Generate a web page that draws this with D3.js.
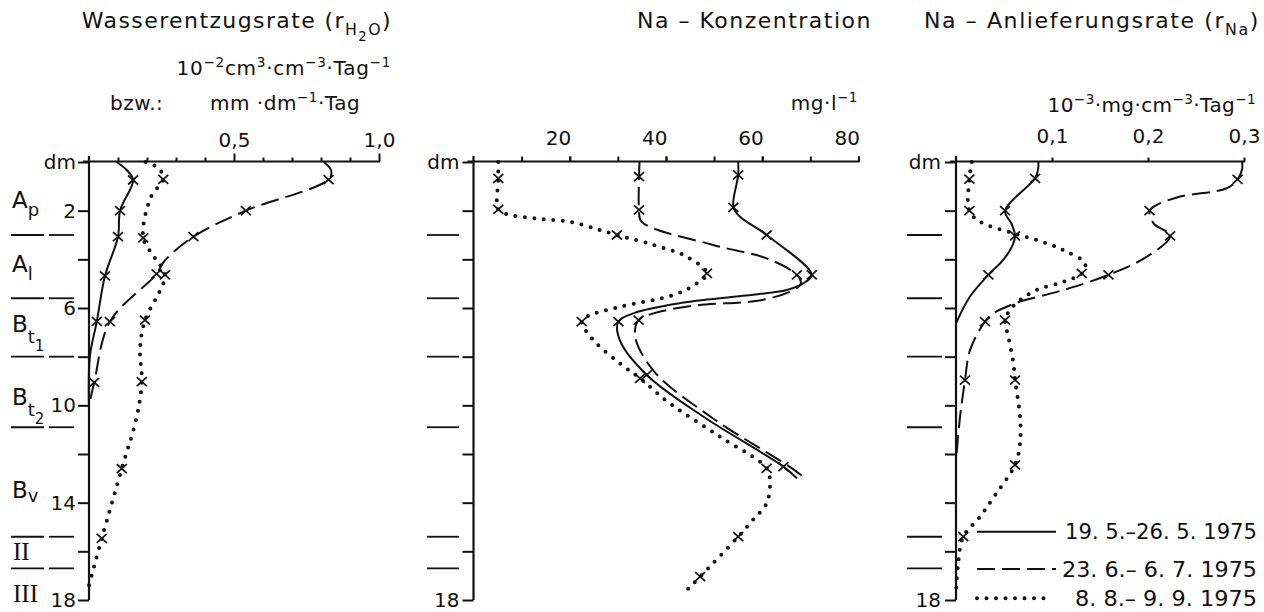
<!DOCTYPE html>
<html><head><meta charset="utf-8">
<script src="https://cdn.jsdelivr.net/npm/d3@7"></script>
<style>
body{margin:0;background:#fff}
svg{display:block;background:#fff}
text{font-family:"DejaVu Sans","Liberation Sans",sans-serif;fill:#111}
</style>
</head><body>
<svg id="chart" width="1264" height="612"></svg>
<script>
// ---------------- data ----------------
// each point: [depth (dm), value, measured (1 = cross marker)]
const seriesLabels = ["19. 5.–26. 5. 1975", "23. 6.– 6. 7. 1975", "8. 8.– 9. 9. 1975"];

// Wasserentzugsrate r_H2O (10^-2 cm3·cm-3·Tag-1)
const wasserMai = [[0,0.095,0],[0.33,0.13,0],[0.74,0.152,1],[2.0,0.107,1],[3.07,0.100,1],[4.68,0.055,1],[6.55,0.027,1],[8.0,0.003,0],[10.2,0,0]];
const wasserJuni = [[0,0.81,0],[0.35,0.835,0],[0.72,0.826,1],[2.0,0.541,1],[3.07,0.36,1],[4.1,0.258,0],[4.6,0.233,1],[6.56,0.072,1],[9.06,0.018,1],[10.0,0,0]];
const wasserAug = [[0,0.195,0],[0.25,0.24,0],[0.71,0.256,1],[1.45,0.213,0],[3.12,0.187,1],[3.9,0.225,0],[4.64,0.262,1],[5.33,0.243,0],[6.5,0.193,1],[7.7,0.176,0],[9.03,0.182,1],[10.5,0.164,0],[12.6,0.113,1],[15.47,0.044,1],[17.4,0,0]];

// Na-Konzentration (mg·l-1)
const konzMai = [[0,55,0],[0.53,55,1],[1.86,54,1],[2.25,55.4,0],[3.0,60.9,1],[4.64,70.3,1],[4.99,68.5,0],[5.26,65.1,0],[5.5,56,0],[5.8,43,0],[6.2,33.5,0],[6.56,30.1,1],[7.32,30.4,0],[8.75,36.0,1],[10.47,47.8,0],[12.52,64.4,1],[13.0,67.2,0]];
const konzJuni = [[0,34.5,0],[0.6,34.4,1],[1.97,34.4,1],[2.45,34.9,0],[3.41,49.8,0],[3.96,60.9,0],[4.64,67.2,1],[5.0,68.0,0],[5.26,66.5,0],[5.67,60,0],[5.9,46,0],[6.22,37.4,0],[6.5,34.3,1],[7.18,33.6,0],[8.6,37.5,0],[10.5,49.5,0],[12.5,65.5,0],[12.93,68.5,0]];
const konzAug = [[0,5.15,0],[0.67,5.15,1],[1.95,5.15,1],[2.14,6.9,0],[2.32,13.1,0],[2.46,20.1,0],[2.8,26.3,0],[3.0,29.8,1],[3.41,37.4,0],[3.89,44.3,0],[4.58,48.5,1],[4.99,46.4,0],[5.47,41.5,0],[5.95,30.4,0],[6.36,23.5,0],[6.56,22.5,1],[7.32,24.9,0],[8.27,30.4,0],[8.89,34.6,1],[9.92,40.8,0],[11.29,51.2,0],[12.59,60.9,1],[13.2,61.6,0],[14.03,60.9,0],[14.7,58.1,0],[15.4,55.0,1],[17.04,47.1,1],[17.6,44.3,0]];

// Na-Anlieferungsrate r_Na (10^-3 mg·cm-3·Tag-1)
const rateMai = [[0,0.0858,0],[0.3,0.0855,0],[0.67,0.0824,1],[2.0,0.0511,1],[2.55,0.058,0],[3.04,0.0615,1],[3.5,0.058,0],[4.03,0.049,0],[4.64,0.0337,1],[5.53,0.0146,0],[6.63,0,0]];
const rateJuni = [[0,0.298,0],[0.3,0.298,0],[0.71,0.2933,1],[1.08,0.282,0],[1.42,0.2336,0],[1.77,0.209,0],[2.0,0.2016,1],[2.52,0.2058,0],[3.04,0.223,1],[3.89,0.1988,0],[4.64,0.1588,1],[5.26,0.112,0],[5.74,0.0667,0],[5.95,0.0528,0],[6.22,0.039,0],[6.56,0.0302,1],[7.73,0.0146,0],[8.96,0.0094,1],[10.47,0.0042,0],[12.3,0,0]];
const rateAug = [[0,0.0164,0],[0.7,0.0139,1],[2.0,0.0139,1],[2.45,0.025,0],[2.93,0.0598,0],[3.34,0.0946,0],[3.69,0.1154,0],[4.16,0.1345,0],[4.58,0.131,1],[4.92,0.1119,0],[5.26,0.0841,0],[5.67,0.0667,0],[6.08,0.0563,0],[6.5,0.0511,1],[7.18,0.0545,0],[8.27,0.0598,0],[8.96,0.0615,1],[10.47,0.0667,0],[11.56,0.0667,0],[12.45,0.0615,1],[13.6,0.0424,0],[14.58,0.025,0],[15.4,0.0076,1],[16.6,0.002,0],[17.8,0,0]];

// axes / ticks
const depthTicks = [0,2,4,6,8,10,12,14,16,18];
const depthLabelsLeft = {0:"dm",2:"2",6:"6",10:"10",14:"14",18:"18"};
const depthLabelsOther = {0:"dm",18:"18"};
const wasserMinorTicks = [0.1,0.2,0.3,0.4,0.6,0.7,0.8,0.9];
const wasserMajorTicks = [0.5,1.0];
const wasserTickLabels = ["0,5","1,0"];
const konzTicks = [10,20,30,40,50,60,70,80];
const konzLabelTicks = [20,40,60,80];
const rateTicks = [0.1,0.2,0.3];
const rateTickLabels = ["0,1","0,2","0,3"];

// soil horizons
const horizonBounds = [3.0, 5.6, 8.0, 10.9, 15.4, 16.7];
const horizonNames = [["A","p"],["A","l"],["B","t","1"],["B","t","2"],["B","v"],["II"],["III"]];
const horizonLabelDepth = [1.9, 4.5, 7.0, 10.0, 13.8, 16.35, 18.1];

// ---------------- drawing ----------------
const svg = d3.select("#chart");
const y = d3.scaleLinear([0,18],[162,600]);
const xW = d3.scaleLinear([0,1],[89,379]);
const xK = d3.scaleLinear([0,80],[473.5,858.5]);
const xR = d3.scaleLinear([0,0.3],[956,1244]);
const axisY = 161.5;

const styles = [
  {dash:null, w:2, cap:"butt"},
  {dash:"18,7", w:2, cap:"butt"},
  {dash:"0,9.5", w:4, cap:"round"}
];

function rich(g, x, yb, anchor, size, parts, ls) {
  const off = {0:0, 1:-0.42*size, "-1":0.3*size, "-2":0.58*size};
  const sz = {0:size, 1:0.68*size, "-1":0.72*size, "-2":0.6*size};
  const t = g.append("text").attr("x",x).attr("y",yb).attr("text-anchor",anchor)
    .style("font-size",size+"px").style("letter-spacing",(ls||0)+"px");
  let cur = 0;
  parts.forEach(([s,l]) => {
    t.append("tspan").attr("dy", off[l]-off[cur]).style("font-size", sz[l]+"px").text(s);
    cur = l;
  });
  return t;
}

function drawFrame(x, xEnd, labels, tickLabelPad) {
  const g = svg.append("g");
  const ya = d3.axisLeft(y).tickValues(depthTicks).tickSize(11).tickPadding(tickLabelPad)
    .tickFormat(d => labels[d] || "");
  const gy = g.append("g").attr("transform",`translate(${x(0)},0)`).call(ya);
  gy.select(".domain").remove();
  gy.selectAll(".tick line").attr("stroke","#111").attr("stroke-width",2);
  gy.selectAll(".tick text").style("font-size","20px").attr("fill","#111");
  g.append("line").attr("x1",x(0)).attr("x2",x(0)).attr("y1",y(0)-6).attr("y2",y(18))
    .attr("stroke","#111").attr("stroke-width",2.2);
  g.append("line").attr("x1",x(0)-6).attr("x2",x(xEnd)+1).attr("y1",axisY).attr("y2",axisY)
    .attr("stroke","#111").attr("stroke-width",2.2);
  return g;
}

function xTicks(g, x, vals, size, fmt, pad, anchor, dx) {
  const a = d3.axisTop(x).tickValues(vals).tickSize(size).tickPadding(pad)
    .tickFormat(fmt || (() => ""));
  const ga = g.append("g").attr("transform",`translate(0,${axisY})`).call(a);
  ga.select(".domain").remove();
  ga.selectAll(".tick line").attr("stroke","#111").attr("stroke-width",2);
  ga.selectAll(".tick text").style("font-size","20px").attr("fill","#111")
    .attr("text-anchor",anchor||"middle").attr("dx",dx||0);
}

function drawSeries(x, list) {
  list.forEach((data, i) => {
    const st = styles[i];
    const line = d3.line().x(d => x(d[1])).y(d => y(d[0])).curve(d3.curveCatmullRom.alpha(0.5));
    svg.append("path").attr("d", line(data)).attr("fill","none").attr("stroke","#111")
      .attr("stroke-width", st.w).attr("stroke-dasharray", st.dash).attr("stroke-linecap", st.cap);
    svg.append("g").selectAll("path").data(data.filter(d => d[2]===1)).join("path")
      .attr("transform", d => `translate(${x(d[1])},${y(d[0])})`)
      .attr("d","M-5,-4.5L5,4.5M-5,4.5L5,-4.5").attr("stroke","#111").attr("stroke-width",1.7).attr("fill","none");
  });
}

function separators(segs) {
  horizonBounds.forEach(b => {
    segs.forEach(([a, c]) => {
      svg.append("line").attr("x1",a).attr("x2",c).attr("y1",y(b)).attr("y2",y(b))
        .attr("stroke","#111").attr("stroke-width",1.8);
    });
  });
}

// ---- left panel ----
const gL = drawFrame(xW, 1.0, depthLabelsLeft, 2);
xTicks(gL, xW, wasserMinorTicks, 4);
xTicks(gL, xW, wasserMajorTicks, 8, (d,i) => wasserTickLabels[i], 7);
separators([[11,44],[49,74]]);
horizonNames.forEach((parts, i) => {
  const yb = y(horizonLabelDepth[i]);
  if (parts.length === 1) {
    svg.append("text").attr("x",13).attr("y",yb).style("font-family","'Liberation Serif','DejaVu Serif',serif")
      .style("font-size","25px").text(parts[0]);
  } else {
    const t = svg.append("text").attr("x",12).attr("y",yb).style("font-size","23px");
    t.append("tspan").text(parts[0]);
    t.append("tspan").attr("dy", parts.length===3 ? 11 : (parts[1]==="v" ? 4 : 8)).style("font-size","18px").text(parts[1]);
    if (parts.length===3) t.append("tspan").attr("dy",8).style("font-size","15px").text(parts[2]);
  }
});
rich(svg, 392, 28, "end", 22, [["Wasserentzugsrate (r",0],["H",-1],["2",-2],["O",-1],[")",0]], 1.4);
rich(svg, 391, 75, "end", 20, [["10",0],["−2",1],["cm",0],["3",1],["·cm",0],["−3",1],["·Tag",0],["−1",1]], 0.7);
rich(svg, 110, 110, "start", 20, [["bzw.:",0]], 0.5);
rich(svg, 210, 110, "start", 20, [["mm ·dm",0],["−1",1],["·Tag",0]], 0.5);
drawSeries(xW, [wasserMai, wasserJuni, wasserAug]);

// ---- middle panel ----
const gM = drawFrame(xK, 80, depthLabelsOther, 3);
xTicks(gM, xK, konzTicks, 5);
xTicks(gM, xK, konzLabelTicks, 5, d => d, 12, "end", 1);
separators([[427,459]]);
rich(svg, 872, 28, "end", 22, [["Na – Konzentration",0]], 1.5);
rich(svg, 858, 110, "end", 20, [["mg·l",0],["−1",1]], 0.5);
drawSeries(xK, [konzMai, konzJuni, konzAug]);

// ---- right panel ----
const gR = drawFrame(xR, 0.3, depthLabelsOther, 4);
xTicks(gR, xR, rateTicks, 4, (d,i) => rateTickLabels[i], 15);
separators([[907,942]]);
rich(svg, 1260, 28, "end", 22, [["Na – Anlieferungsrate (r",0],["Na",-1],[")",0]], 1.6);
rich(svg, 1256, 112, "end", 20, [["10",0],["−3",1],["·mg·cm",0],["−3",1],["·Tag",0],["−1",1]], 0.4);
drawSeries(xR, [rateMai, rateJuni, rateAug]);

// ---- legend ----
const legY = [531.7, 569, 598.3];
const legBase = [538.5, 576.5, 606];
const legW = [192, 195, 182];
seriesLabels.forEach((s, i) => {
  const st = styles[i];
  svg.append("line").attr("x1",977).attr("x2",i===2?1050:1056).attr("y1",legY[i]).attr("y2",legY[i])
    .attr("stroke","#111").attr("stroke-width",st.w).attr("stroke-dasharray",st.dash).attr("stroke-linecap",st.cap);
  svg.append("text").attr("x",1257).attr("y",legBase[i]).attr("text-anchor","end")
    .style("font-size","21px").attr("textLength",legW[i]).attr("lengthAdjust","spacingAndGlyphs").text(s);
});
</script>
</body></html>
